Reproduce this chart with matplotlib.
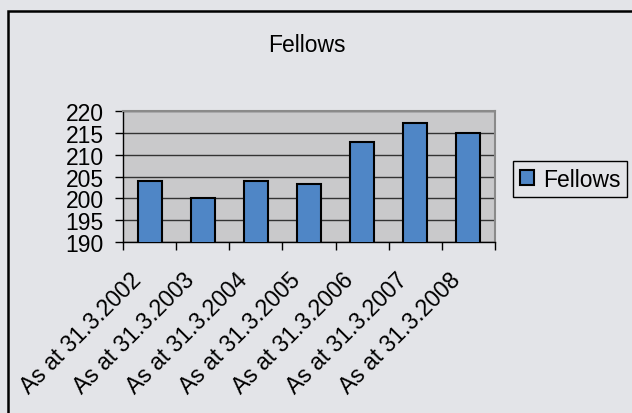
import matplotlib.pyplot as plt
from matplotlib.patches import Rectangle
from matplotlib.transforms import ScaledTranslation
import numpy as np

plt.rcParams['font.family'] = ['Liberation Sans', 'DejaVu Sans']

categories = ["As at 31.3.2002", "As at 31.3.2003", "As at 31.3.2004",
              "As at 31.3.2005", "As at 31.3.2006", "As at 31.3.2007",
              "As at 31.3.2008"]
fellows = [204, 200, 204, 203.2, 213, 217.2, 215]
y_ticks = [190, 195, 200, 205, 210, 215, 220]

bg = "#e3e4e8"
fig = plt.figure(figsize=(6.32, 4.14), dpi=100, facecolor=bg)
ax = fig.add_axes([0.1946, 0.413, 0.5886, 0.3164])
ax.set_facecolor("#c9c9cb")

x = np.arange(len(categories))
bars = ax.bar(x, fellows, width=0.45, bottom=0, color="#4f86c6",
              edgecolor="black", linewidth=1.5, label="Fellows", zorder=3)

ax.set_ylim(190, 220)
ax.set_xlim(-0.5, len(categories) - 0.5)
ax.set_yticks(y_ticks)
ax.tick_params(axis="y", labelsize=16.5, length=6, width=1, direction="out", pad=8)
ax.yaxis.grid(True, color="#333333", linewidth=1, zorder=1)

# category labels on major ticks, tick marks on the boundaries
ax.set_xticks(x)
ax.set_xticklabels(categories, rotation=45, ha="right", va="top",
                   rotation_mode="anchor", fontsize=16.5)
ax.tick_params(axis="x", which="major", length=0, pad=14)
ax.set_xticks(np.arange(len(categories) + 1) - 0.5, minor=True)
ax.tick_params(axis="x", which="minor", length=6, width=1, direction="out")
shift = ScaledTranslation(-0.2, -0.06, fig.dpi_scale_trans)
for lbl in ax.get_xticklabels():
    lbl.set_transform(lbl.get_transform() + shift)

for side in ["top", "right"]:
    ax.spines[side].set_color("#8a8a8a")
    ax.spines[side].set_linewidth(1.5)
for side in ["left", "bottom"]:
    ax.spines[side].set_color("black")
    ax.spines[side].set_linewidth(1)

fig.text(0.486, 0.891, "Fellows", ha="center", va="center", fontsize=16.5)

leg = fig.legend(handles=[bars], labels=["Fellows"], loc="center left",
                 bbox_to_anchor=(0.812, 0.565), fontsize=16.5, frameon=True,
                 fancybox=False, edgecolor="black", facecolor=bg,
                 handlelength=0.6, handleheight=0.6, handletextpad=0.4,
                 borderpad=0.3, borderaxespad=0)
leg.get_frame().set_linewidth(1)
leg.get_frame().set_alpha(None)

# outer chart border
fig.patches.append(Rectangle((8 / 632, -0.1), 1.1, 1 - 12 / 414 + 0.1,
                             transform=fig.transFigure, fill=False,
                             edgecolor="black", linewidth=1.8))

fig.savefig("out.png", dpi=100, facecolor=bg)
